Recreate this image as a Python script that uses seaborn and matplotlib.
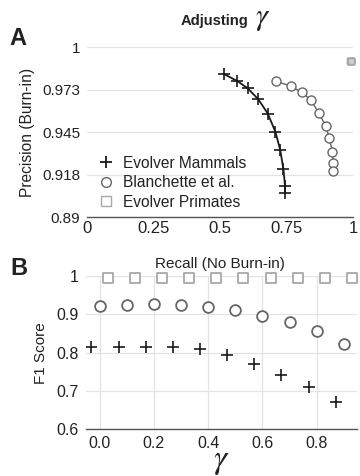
import numpy as np
import pandas as pd
import matplotlib
matplotlib.use('Agg')
import matplotlib.pyplot as plt
import seaborn as sns
from matplotlib.lines import Line2D

# panel A: precision (burn-in) vs recall (no burn-in)
mammals_recall = [0.515, 0.565, 0.604, 0.644, 0.679, 0.708, 0.726, 0.738, 0.744, 0.744]
mammals_precision = [0.9825, 0.978, 0.9733, 0.9661, 0.957, 0.945, 0.9333, 0.9208, 0.910, 0.9053]
blanch_recall = [0.711, 0.766, 0.807, 0.841, 0.872, 0.897, 0.911, 0.922, 0.926, 0.926]
blanch_precision = [0.9778, 0.9748, 0.9707, 0.9657, 0.9571, 0.9489, 0.9409, 0.9322, 0.9247, 0.9199]
primates_recall = [0.990, 0.990, 0.991, 0.991, 0.991, 0.991, 0.992, 0.992, 0.992, 0.992]
primates_precision = [0.9912, 0.9912, 0.9911, 0.9911, 0.991, 0.991, 0.991, 0.9909, 0.9909, 0.9909]
a_yticks = [0.89, 0.9175, 0.945, 0.9725, 1.0]
a_yticklabels = ['0.89', '0.918', '0.945', '0.973', '1']
a_xticks = [0, 0.25, 0.5, 0.75, 1]
a_xticklabels = ['0', '0.25', '0.5', '0.75', '1']

# panel B: F1 score vs gamma
gamma = [0.0, 0.1, 0.2, 0.3, 0.4, 0.5, 0.6, 0.7, 0.8, 0.9]
mammals_f1 = [0.814, 0.814, 0.816, 0.814, 0.809, 0.794, 0.770, 0.742, 0.711, 0.672]
blanch_f1 = [0.922, 0.924, 0.926, 0.924, 0.920, 0.911, 0.897, 0.879, 0.857, 0.823]
primates_f1 = [0.994, 0.994, 0.994, 0.994, 0.994, 0.994, 0.994, 0.994, 0.994, 0.994]
b_yticks = [0.6, 0.7, 0.8, 0.9, 1.0]
b_yticklabels = ['0.6', '0.7', '0.8', '0.9', '1']
b_xticks = [0.0, 0.2, 0.4, 0.6, 0.8]

sns.set_style('white')
plt.rcParams['font.family'] = ['Liberation Sans', 'DejaVu Sans']
plt.rcParams['mathtext.fontset'] = 'stix'

fig = plt.figure(figsize=(3.6, 4.76), dpi=100)
axA = fig.add_axes([0.242, 0.544, 0.739, 0.357])
axB = fig.add_axes([0.239, 0.098, 0.754, 0.322])

black = '#1a1a1a'
mid = '#666666'
light = '#a8a8a8'
grid = '#e3e3e3'
txt = '#222222'

# ---- panel A
sns.lineplot(x=mammals_recall, y=mammals_precision, ax=axA, sort=False, color=black,
             linewidth=1.3, marker='+', markersize=8, markeredgewidth=1.2,
             markeredgecolor=black, estimator=None)
sns.lineplot(x=blanch_recall, y=blanch_precision, ax=axA, sort=False, color=mid,
             linewidth=1.0, marker='o', markersize=6.5, markerfacecolor='white',
             markeredgecolor=mid, markeredgewidth=1.0, estimator=None)
sns.scatterplot(x=primates_recall, y=primates_precision, ax=axA, marker='s', s=22,
                color='#d0d0d0', edgecolor=light, linewidth=1.0, clip_on=False, zorder=5)

axA.set_xlim(0, 1)
axA.set_ylim(0.89, 1.0)
axA.set_yticks(a_yticks)
axA.set_yticklabels(a_yticklabels)
axA.set_xticks(a_xticks)
axA.set_xticklabels(a_xticklabels)
axA.grid(axis='y', color=grid, linewidth=0.9)
axA.set_axisbelow(True)
for s in ['top', 'right', 'left']:
    axA.spines[s].set_visible(False)
axA.spines['bottom'].set_color('#555555')
axA.spines['bottom'].set_linewidth(1.0)
axA.tick_params(axis='y', length=0, labelsize=11, colors=txt, pad=5)
axA.tick_params(axis='x', length=0, labelsize=12, colors=txt, pad=3)
axA.set_ylabel('Precision (Burn-in)', fontsize=11.2, color=txt, labelpad=5)
axA.set_xlabel('Recall (No Burn-in)', fontsize=11, color=txt, labelpad=15)

handles = [
    Line2D([], [], linestyle='none', marker='+', markersize=9, markeredgewidth=1.3, color=black),
    Line2D([], [], linestyle='none', marker='o', markersize=7, markerfacecolor='white',
           markeredgecolor=mid, markeredgewidth=1.0),
    Line2D([], [], linestyle='none', marker='s', markersize=6.5, markerfacecolor='white',
           markeredgecolor=light, markeredgewidth=1.0),
]
axA.legend(handles, ['Evolver Mammals', 'Blanchette et al.', 'Evolver Primates'],
           loc='lower left', bbox_to_anchor=(0.0, -0.02), frameon=False, fontsize=11.2,
           handletextpad=0.6, labelspacing=0.28, borderpad=0.2, handlelength=1.0,
           labelcolor=txt)

# ---- panel B
offset = 0.03
sns.scatterplot(x=np.array(gamma) - offset, y=mammals_f1, ax=axB, marker='+', s=70,
                color=black, linewidth=1.2, zorder=4)
sns.scatterplot(x=gamma, y=blanch_f1, ax=axB, marker='o', s=60, facecolor='white',
                edgecolor=mid, linewidth=1.3, zorder=4)
sns.scatterplot(x=np.array(gamma) + offset, y=primates_f1, ax=axB, marker='s', s=46,
                facecolor='white', edgecolor=light, linewidth=1.3, zorder=4, clip_on=False)

axB.set_xlim(-0.05, 0.95)
axB.set_ylim(0.6, 1.0)
axB.set_yticks(b_yticks)
axB.set_yticklabels(b_yticklabels)
axB.set_xticks(b_xticks)
axB.set_xticklabels([f'{v:.1f}' for v in b_xticks])
axB.grid(axis='both', color=grid, linewidth=0.9)
axB.set_axisbelow(True)
for s in ['top', 'right', 'left']:
    axB.spines[s].set_visible(False)
axB.spines['bottom'].set_color('#555555')
axB.spines['bottom'].set_linewidth(1.0)
axB.tick_params(axis='both', length=0, labelsize=11.5, colors=txt, pad=5)
axB.set_ylabel('F1 Score', fontsize=11, color=txt, labelpad=6)
axB.set_xlabel(r'$\gamma$', fontsize=24, color=txt, labelpad=-4)

# titles and panel letters
fig.text(0.69, 0.947, 'Adjusting', fontsize=10.6, fontweight='bold', ha='right',
         va='baseline', color=txt)
fig.text(0.708, 0.947, r'$\gamma$', fontsize=22, ha='left', va='baseline', color=txt)
fig.text(0.025, 0.905, 'A', fontsize=17, fontweight='bold', color=txt)
fig.text(0.03, 0.423, 'B', fontsize=17, fontweight='bold', color=txt)

fig.savefig('out.png', dpi=100)
